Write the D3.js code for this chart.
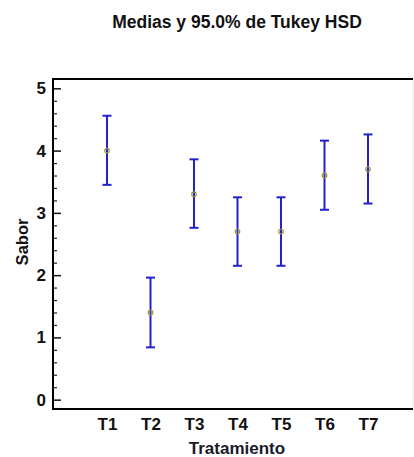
<!DOCTYPE html>
<html>
<head>
<meta charset="utf-8">
<script src="https://cdn.jsdelivr.net/npm/d3@7/dist/d3.min.js"></script>
<style>
  body { margin: 0; background: #fff; }
  text { font-family: "Liberation Sans", Arial, sans-serif; }
</style>
</head>
<body>
<div id="chart"></div>
<script>
// data
var tratamientos = ["T1", "T2", "T3", "T4", "T5", "T6", "T7"];
var medias = [4.0, 1.4, 3.3, 2.7, 2.7, 3.6, 3.7];
var limInf = [3.45, 0.84, 2.76, 2.15, 2.15, 3.05, 3.15];
var limSup = [4.56, 1.96, 3.86, 3.25, 3.25, 4.16, 4.26];
var yTicks = [0, 1, 2, 3, 4, 5];

var w = 414, h = 457;
var margin = {top: 79, right: 1, bottom: 48, left: 53};

var svg = d3.select("#chart").append("svg")
    .attr("width", w)
    .attr("height", h);

var x = d3.scalePoint()
    .domain(tratamientos)
    .range([107, 368]);

var y = d3.scaleLinear()
    .domain([-0.15, 5.15])
    .range([h - margin.bottom, margin.top]);

// title
svg.append("text")
    .attr("x", 237)
    .attr("y", 28)
    .attr("text-anchor", "middle")
    .style("font-size", "17.5px")
    .style("font-weight", "bold")
    .style("fill", "#111")
    .text("Medias y 95.0% de Tukey HSD");

// minor ticks (inside)
var minor = d3.range(0, 5.01, 0.2).filter(function (v) {
    return Math.abs(v - Math.round(v)) > 0.01;
});
svg.append("g")
    .attr("transform", "translate(" + margin.left + ",0)")
    .call(d3.axisLeft(y).tickValues(minor).tickSize(-4).tickSizeOuter(0).tickFormat(""))
    .call(function (g) { g.select(".domain").remove(); })
    .selectAll("line").attr("stroke", "#222").attr("stroke-width", 1.2);

// major ticks + labels
var yAxis = svg.append("g")
    .attr("transform", "translate(" + margin.left + ",0)")
    .call(d3.axisLeft(y).tickValues(yTicks).tickSize(-8).tickSizeOuter(0).tickPadding(7).tickFormat(d3.format("d")));
yAxis.select(".domain").remove();
yAxis.selectAll("line").attr("stroke", "#111").attr("stroke-width", 1.5);
yAxis.selectAll("text")
    .style("font-size", "17px")
    .style("font-weight", "bold")
    .style("font-family", "'Liberation Sans', Arial, sans-serif")
    .attr("fill", "#111");

var xAxis = svg.append("g")
    .attr("transform", "translate(0," + (h - margin.bottom) + ")")
    .call(d3.axisBottom(x).tickSize(0).tickPadding(9));
xAxis.select(".domain").remove();
xAxis.selectAll("text")
    .style("font-size", "17px")
    .style("font-weight", "bold")
    .style("font-family", "'Liberation Sans', Arial, sans-serif")
    .attr("fill", "#111");

// frame
var fx0 = margin.left, fx1 = w - margin.right, fy0 = margin.top, fy1 = h - margin.bottom;
svg.append("line")
    .attr("x1", fx1).attr("x2", fx1).attr("y1", fy0).attr("y2", fy1)
    .attr("stroke", "#e8e8e8").attr("stroke-width", 1);
svg.append("path")
    .attr("d", "M" + fx1 + "," + fy0 + "H" + fx0 + "V" + fy1 + "H" + fx1)
    .attr("fill", "none").attr("stroke", "#000").attr("stroke-width", 2);

// axis titles
svg.append("text")
    .attr("transform", "translate(28,242) rotate(-90)")
    .attr("text-anchor", "middle")
    .style("font-size", "16.5px")
    .style("font-weight", "bold")
    .style("fill", "#111")
    .text("Sabor");

svg.append("text")
    .attr("x", 237)
    .attr("y", 454)
    .attr("text-anchor", "middle")
    .style("font-size", "17px")
    .style("font-weight", "bold")
    .style("fill", "#1a1a2a")
    .text("Tratamiento");

// error bars
var bars = svg.append("g").selectAll("g.bar")
    .data(tratamientos)
    .enter().append("g")
    .attr("class", "bar");

var blue = "#2222cc";

bars.append("line")
    .attr("x1", function (d) { return x(d); })
    .attr("x2", function (d) { return x(d); })
    .attr("y1", function (d, i) { return y(limSup[i]); })
    .attr("y2", function (d, i) { return y(limInf[i]); })
    .attr("stroke", blue).attr("stroke-width", 2);

bars.append("line")
    .attr("x1", function (d) { return x(d) - 4.5; })
    .attr("x2", function (d) { return x(d) + 4.5; })
    .attr("y1", function (d, i) { return y(limSup[i]); })
    .attr("y2", function (d, i) { return y(limSup[i]); })
    .attr("stroke", blue).attr("stroke-width", 2);

bars.append("line")
    .attr("x1", function (d) { return x(d) - 4.5; })
    .attr("x2", function (d) { return x(d) + 4.5; })
    .attr("y1", function (d, i) { return y(limInf[i]); })
    .attr("y2", function (d, i) { return y(limInf[i]); })
    .attr("stroke", blue).attr("stroke-width", 2);

bars.append("circle")
    .attr("cx", function (d) { return x(d); })
    .attr("cy", function (d, i) { return y(medias[i]); })
    .attr("r", 2.3)
    .attr("fill", "none")
    .attr("stroke", "#9c9a3a")
    .attr("stroke-width", 1.2);
</script>
</body>
</html>
